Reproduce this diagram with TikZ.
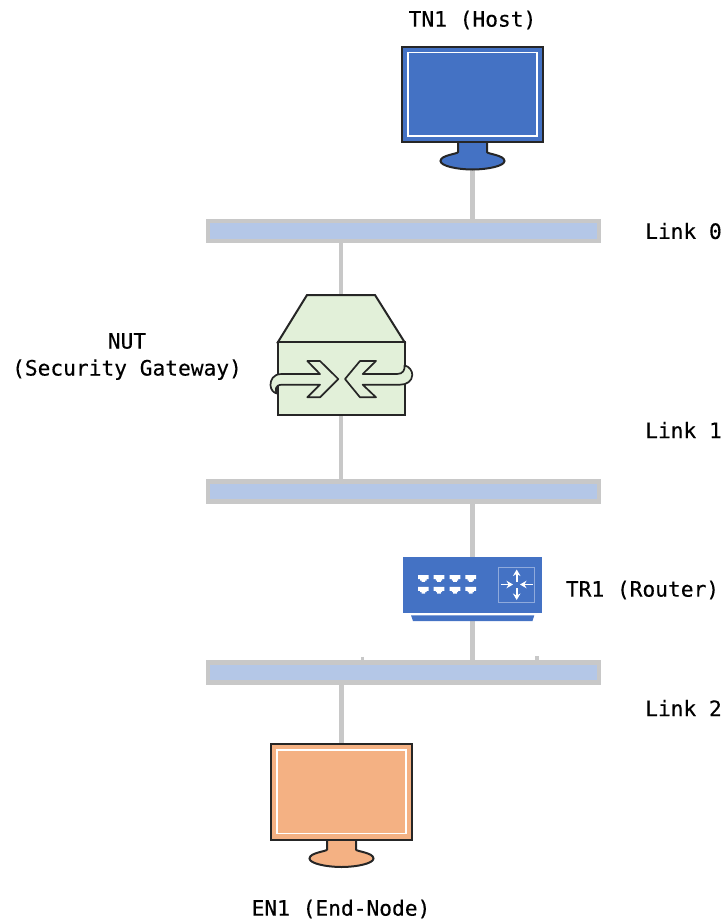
\documentclass[tikz,border=0pt]{standalone}
\usepackage{fontspec}
\setmonofont[FakeBold=0.35]{DejaVu Sans Mono}
\usetikzlibrary{backgrounds,arrows.meta}
\definecolor{linkgrey}{RGB}{200,200,200}
\definecolor{barblue}{HTML}{B4C7E7}
\definecolor{hostblue}{HTML}{4472C4}
\definecolor{gwgreen}{HTML}{E2F0D9}
\definecolor{endorange}{HTML}{F4B183}
\definecolor{boxblue}{HTML}{8FAADC}
\tikzset{
  x=1pt,y=-1pt,
  lbl/.style={font=\ttfamily\fontsize{21.2}{27}\selectfont,text=black,inner sep=0pt,align=center},
  linkbar/.style={draw=linkgrey,fill=barblue,line width=4.4pt,minimum width=391pt,minimum height=20pt,inner sep=0pt,outer sep=0pt},
  holder/.style={inner sep=0pt,outer sep=0pt},
  wire/.style={draw=linkgrey,line width=4.4pt},
  outline/.style={draw=black!85,line width=2pt,line join=miter},
  flow/.style={draw=white,line width=1.8pt,-{Stealth[length=6.5pt,width=7.5pt]}},
  pics/monitor/.style={code={
    \path[outline,fill=#1] (-14.5,-1) -- (-14.5,10)
      .. controls (-14.5,12) and (-32,13) .. (-32,19)
      .. controls (-32,24) and (-15,27.5) .. (0,27.5)
      .. controls (15,27.5) and (32,24) .. (32,19)
      .. controls (32,13) and (14.5,12) .. (14.5,10) -- (14.5,-1) -- cycle;
    \path[outline,fill=#1] (-70.5,-95.5) rectangle (70.5,0);
    \draw[white,line width=1.3pt] (-64.5,-89.5) rectangle (64.5,-6);
  }},
  pics/port/.style={code={
    \fill[white] (-5.3,-3.2) -- (5.3,-3.2) -- (5.3,0.8) -- (3.2,0.8) -- (3.2,2.2) -- (1.8,2.2) -- (1.8,3.6) -- (-1.8,3.6) -- (-1.8,2.2) -- (-3.2,2.2) -- (-3.2,0.8) -- (-5.3,0.8) -- cycle;
  }}
}
\begin{document}
\begin{tikzpicture}
\useasboundingbox (0,0) rectangle (724,922);
% link bars
\node[linkbar] (bar0) at (403.5,231) {};
\node[linkbar] (bar1) at (403.5,491.5) {};
\node[linkbar] (bar2) at (403.5,672.5) {};
% device holders
\node[holder,minimum width=141pt,minimum height=122pt] (tn1) at (472.5,107) {};
\node[holder,minimum width=127pt,minimum height=119pt] (nut) at (341,354.5) {};
\node[holder,minimum width=140pt,minimum height=64pt] (tr1) at (472.5,589) {};
\node[holder,minimum width=141pt,minimum height=122pt] (en1) at (341.5,805) {};
% connectors
\begin{scope}[on background layer]
\draw[wire] (tn1.south) -- (tn1.south |- bar0.north);
\draw[wire] (nut.north) -- (nut.north |- bar0.south);
\draw[wire] (nut.south) -- (nut.south |- bar1.north);
\draw[wire] (tr1.north) -- (tr1.north |- bar1.south);
\draw[wire] (tr1.south) -- (tr1.south |- bar2.north);
\draw[wire] (en1.north) -- (en1.north |- bar2.south);
\draw[linkgrey,line width=3pt] (362.5,656.5) -- (362.5,660);
\draw[linkgrey,line width=3.5pt] (537,656) -- (537,660);
\end{scope}
% TN1
\pic at (472.5,142) {monitor=hostblue};
% EN1
\pic at (341.5,839.5) {monitor=endorange};
% NUT
\path[outline,fill=gwgreen] (278,342) -- (307,295) -- (375,295) -- (404.5,342) -- cycle;
\path[outline,fill=gwgreen] (278,342) rectangle (404.5,414.5);
\path[outline,fill=gwgreen,line width=1.7pt,line join=round]
  (338.3,379) -- (320,361) -- (307.3,361) -- (320,374) -- (281.7,374)
  .. controls (273,374) and (270.5,380) .. (270.5,385)
  .. controls (270.5,390) and (274,393) .. (277,393.5)
  .. controls (275,390) and (275,385) .. (281.7,384.7)
  -- (320,384.7) -- (307.3,397.3) -- (320,397.3) -- cycle;
\path[outline,fill=gwgreen,line width=1.7pt,line join=round]
  (345,379) -- (360,361) -- (376,361) -- (362.7,374) -- (397,374)
  .. controls (403,374) and (405,370) .. (404.5,365.5)
  .. controls (409,366) and (412.5,371) .. (412.3,375)
  .. controls (412,381) and (407,384.7) .. (400,384.7)
  -- (362.7,384.7) -- (376,397.3) -- (360,397.3) -- cycle;
% TR1
\fill[hostblue] (402.7,557) rectangle (542.3,613);
\fill[hostblue] (411,615.3) -- (534.3,615.3) -- (532.5,621) -- (413,621) -- cycle;
\foreach \px in {423.3,439,455,470.7}{
  \pic at (\px,578.3) {port};
  \pic at (\px,590) {port};
}
\draw[boxblue,line width=0.8pt] (498,567.3) rectangle (534.7,602);
\draw[flow] (516.7,582) -- (516.7,569.5);
\draw[flow] (516.7,588) -- (516.7,600);
\draw[flow] (500.5,584.5) -- (513,584.5);
\draw[flow] (532.5,584.5) -- (520,584.5);
% labels
\node[lbl] (tn1label) at (472.5,20) {TN1 (Host)};
\node[lbl,anchor=west] (link0) at (645,231) {Link 0};
\node[lbl,anchor=west] (link1) at (645,430) {Link 1};
\node[lbl,anchor=west] (link2) at (645,708) {Link 2};
\node[lbl] (nutlabel) at (127,356.5) {NUT\\(Security Gateway)};
\node[lbl] (tr1label) at (642.5,590) {TR1 (Router)};
\node[lbl] (en1label) at (341,909) {EN1 (End-Node)};
\end{tikzpicture}
\end{document}
